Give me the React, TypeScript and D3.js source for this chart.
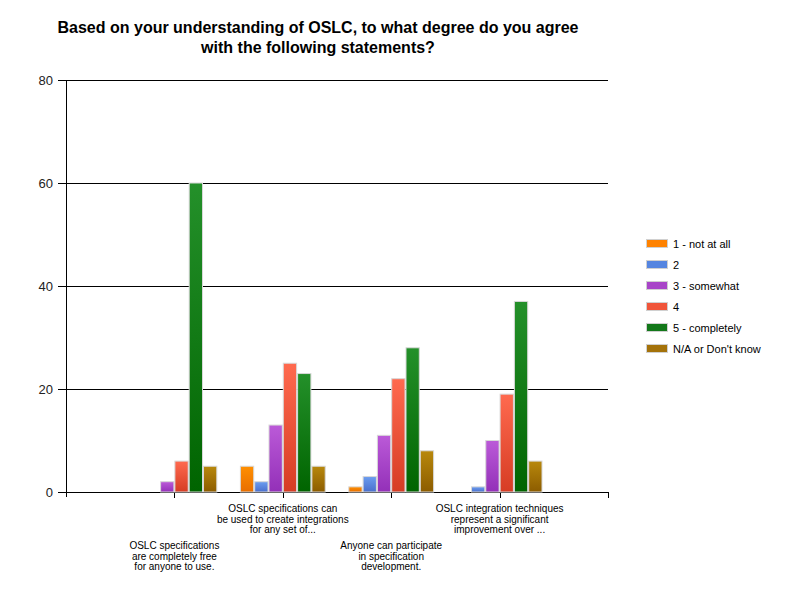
import React from "react";
import * as d3 from "d3";

const categories: string[][] = [
  ["OSLC specifications", "are completely free", "for anyone to use."],
  ["OSLC specifications can", "be used to create integrations", "for any set of..."],
  ["Anyone can participate", "in specification", "development."],
  ["OSLC integration techniques", "represent a significant", "improvement over ..."],
];
const seriesNames = ["1 - not at all", "2", "3 - somewhat", "4", "5 - completely", "N/A or Don't know"];
const notAtAll = [0, 5, 1, 0];
const two = [0, 2, 3, 1];
const somewhat = [2, 13, 11, 10];
const four = [6, 25, 22, 19];
const completely = [60, 23, 28, 37];
const naDontKnow = [5, 5, 8, 6];
const seriesValues = [notAtAll, two, somewhat, four, completely, naDontKnow];
const yTicks = [0, 20, 40, 60, 80];
const colorsTop = ["#ff8f00", "#6b9df0", "#bb5ad8", "#ff6a4f", "#24902a", "#b8880c"];
const colorsBottom = ["#e86e00", "#4a6fcc", "#9330b8", "#d63c24", "#006400", "#8c5c00"];
const legendColors = ["#ff8200", "#5585e0", "#a845c8", "#f0553a", "#13781a", "#a4720a"];

export default function App() {
  const W = 800, H = 600;
  const left = 66, right = 608, top = 80, bottom = 492;
  const x = d3.scaleLinear().domain([0, 5]).range([left, right]);
  const y = d3.scaleLinear().domain([0, 80]).range([bottom, top]);
  const barW = 14.3;
  const font = "Arial, 'Liberation Sans', sans-serif";

  return (
    <svg width={W} height={H} style={{ position: "absolute", left: 0, top: 0, background: "#fff" }} fontFamily={font}>
      <defs>
        {colorsTop.map((c, i) => (
          <linearGradient key={i} id={`g${i}`} x1="0" y1="0" x2="0" y2="1">
            <stop offset="0%" stopColor={c} />
            <stop offset="100%" stopColor={colorsBottom[i]} />
          </linearGradient>
        ))}
      </defs>
      <rect x={0} y={0} width={W} height={H} fill="#fff" />
      <text x={318} y={33} textAnchor="middle" fontWeight="bold" fontSize={16} fill="#000">
        Based on your understanding of OSLC, to what degree do you agree
      </text>
      <text x={318} y={53} textAnchor="middle" fontWeight="bold" fontSize={16} fill="#000">
        with the following statements?
      </text>
      {yTicks.map((t) => (
        <g key={t}>
          <line x1={left - 8} x2={right} y1={y(t) + 0.5} y2={y(t) + 0.5} stroke="#000" strokeWidth={1} />
          <text x={53} y={y(t) + 5} textAnchor="end" fontSize={13} fill="#222">
            {t}
          </text>
        </g>
      ))}
      <line x1={left + 0.5} x2={left + 0.5} y1={top} y2={bottom + 5} stroke="#000" />
      {[1, 2, 3, 4, 5].map((k) => (
        <line key={k} x1={Math.round(x(k)) + 0.5} x2={Math.round(x(k)) + 0.5} y1={bottom} y2={bottom + 6} stroke="#000" />
      ))}
      {seriesValues.map((vals, s) =>
        vals.map((v, c) => {
          if (v <= 0) return null;
          const bx = x(c + 1) + (s - 3) * barW;
          return (
            <rect
              key={`${s}-${c}`}
              x={bx + 0.5}
              y={y(v)}
              width={barW - 1}
              height={bottom - y(v)}
              fill={`url(#g${s})`}
              stroke="#d8d8d8"
              strokeWidth={1}
            />
          );
        })
      )}
      {categories.map((lines, c) => {
        const baseY = c % 2 === 0 ? 549 : 512;
        return (
          <text key={c} textAnchor="middle" fontSize={10} fill="#000">
            {lines.map((l, i) => (
              <tspan key={i} x={x(c + 1)} y={baseY + i * 10.7}>
                {l}
              </tspan>
            ))}
          </text>
        );
      })}
      {seriesNames.map((n, i) => (
        <g key={n}>
          <rect x={646.5} y={239.5 + i * 21} width={21} height={8} fill={legendColors[i]} stroke="#d0d0d0" />
          <text x={673} y={247.5 + i * 21} fontSize={11} fill="#000">
            {n}
          </text>
        </g>
      ))}
    </svg>
  );
}
